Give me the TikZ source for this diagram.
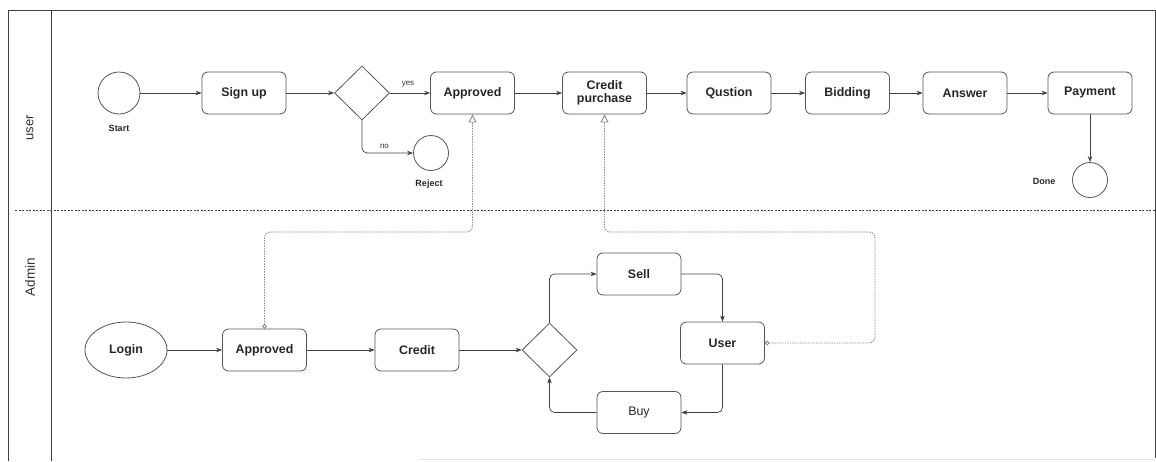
\documentclass[tikz,border=0pt]{standalone}
\usepackage{fontspec}
\setmainfont{Liberation Sans}
\usetikzlibrary{arrows.meta,shapes.geometric}
\definecolor{ln}{HTML}{404040}
\definecolor{bx}{HTML}{555555}
\definecolor{dt}{HTML}{8A8A8A}
\tikzset{
  lane/.style={draw=ln, line width=0.9pt},
  box/.style={draw=bx, line width=0.8pt, rounded corners=6pt, minimum width=84pt, minimum height=42pt, inner sep=1pt, align=center, font=\fontsize{12.4}{13.5}\selectfont\bfseries, text=black!85},
  rbox/.style={box, font=\fontsize{12.4}{13.5}\selectfont},
  evt/.style={draw=bx, line width=0.8pt, circle, inner sep=0pt},
  dia/.style={draw=bx, line width=0.8pt, diamond, minimum width=55pt, minimum height=54pt, inner sep=0pt},
  lbl/.style={font=\fontsize{9}{10}\selectfont\bfseries, text=black!85},
  slbl/.style={font=\fontsize{8}{9}\selectfont, text=black!80},
  flow/.style={draw=ln, line width=0.7pt, -{Stealth[length=6pt,width=4.5pt]}, rounded corners=5pt},
  msg/.style={draw=dt, line width=0.9pt, dash pattern=on 1.4pt off 1.2pt, rounded corners=6pt,
     {Circle[open,length=4.5pt,width=4.5pt]}-{Triangle[open,length=8pt,width=8pt]}},
}
\begin{document}
\begin{tikzpicture}[x=1pt,y=-1pt]
\useasboundingbox (0,0) rectangle (1156,461);
% frame and lanes
\draw[lane] (8,461) -- (8,10) -- (1155,10) -- (1155,458);
\draw[lane] (51,10) -- (51,461);
\draw[draw=ln, line width=0.7pt, dash pattern=on 2pt off 1.5pt] (15,210) -- (1155,210);
\draw[draw=black!12, line width=0.8pt] (420,459.5) -- (1155,459.5);
\node[rotate=90, font=\fontsize{13}{14}\selectfont, text=black!80] (luser) at (30,128) {user};
\node[rotate=90, font=\fontsize{13.5}{14}\selectfont, text=black!80] (ladmin) at (30,277) {Admin};

% user lane
\node[evt, minimum size=42pt] (start) at (119,93) {};
\node[lbl] (startl) at (119,128) {Start};
\node[box] (signup) at (244,93) {Sign up};
\node[dia] (d1) at (362,93) {};
\node[box] (appr) at (472.5,93) {Approved};
\node[evt, minimum size=35pt] (reject) at (431,153) {};
\node[lbl] (rejectl) at (429,184) {Reject};
\node[box] (cp) at (604.5,93) {Credit\\purchase};
\node[box] (qu) at (729,93) {Qustion};
\node[box] (bid) at (847.5,93) {Bidding};
\node[box] (ans) at (965,93) {Answer};
\node[box] (pay) at (1090,93) {Payment};
\node[evt, minimum size=35pt] (done) at (1090,180) {};
\node[lbl] (donel) at (1044,181) {Done};

\draw[flow] (start) -- (signup);
\draw[flow] (signup) -- (d1);
\draw[flow] (d1) -- node[slbl, above, pos=0.45, yshift=2pt] {yes} (appr);
\draw[flow] (d1.south) |- node[slbl, above, pos=0.72, yshift=1pt] {no} (reject);
\draw[flow] (appr) -- (cp);
\draw[flow] (cp) -- (qu);
\draw[flow] (qu) -- (bid);
\draw[flow] (bid) -- (ans);
\draw[flow] (ans) -- (pay);
\draw[flow] (pay) -- (done);

% admin lane
\node[draw=bx, line width=0.8pt, ellipse, minimum width=82pt, minimum height=56pt, inner sep=0pt, font=\fontsize{12.4}{13.5}\selectfont\bfseries, text=black!85] (login) at (126,350) {Login};
\node[box] (appr2) at (264.5,350) {Approved};
\node[box] (credit) at (417,350) {Credit};
\node[dia] (d2) at (549.5,350) {};
\node[box] (sell) at (639,274) {Sell};
\node[box] (user) at (722.5,343) {User};
\node[rbox] (buy) at (639,412.5) {Buy};

\draw[flow] (login) -- (appr2);
\draw[flow] (appr2) -- (credit);
\draw[flow] (credit) -- (d2);
\draw[flow] (d2.north) |- (sell);
\draw[flow] (sell) -| (user);
\draw[flow] (user) |- (buy);
\draw[flow] (buy) -| (d2.south);

% message flows
\coordinate (m1a) at (264.5,232);
\coordinate (m1b) at (472.5,232);
\draw[msg] (appr2.north) -- (m1a) -- (m1b) -- (appr.south);
\coordinate (m2a) at (875,343);
\coordinate (m2b) at (875,232);
\coordinate (m2c) at (604.5,232);
\draw[msg] (user.east) -- (m2a) -- (m2b) -- (m2c) -- (cp.south);
\end{tikzpicture}
\end{document}
